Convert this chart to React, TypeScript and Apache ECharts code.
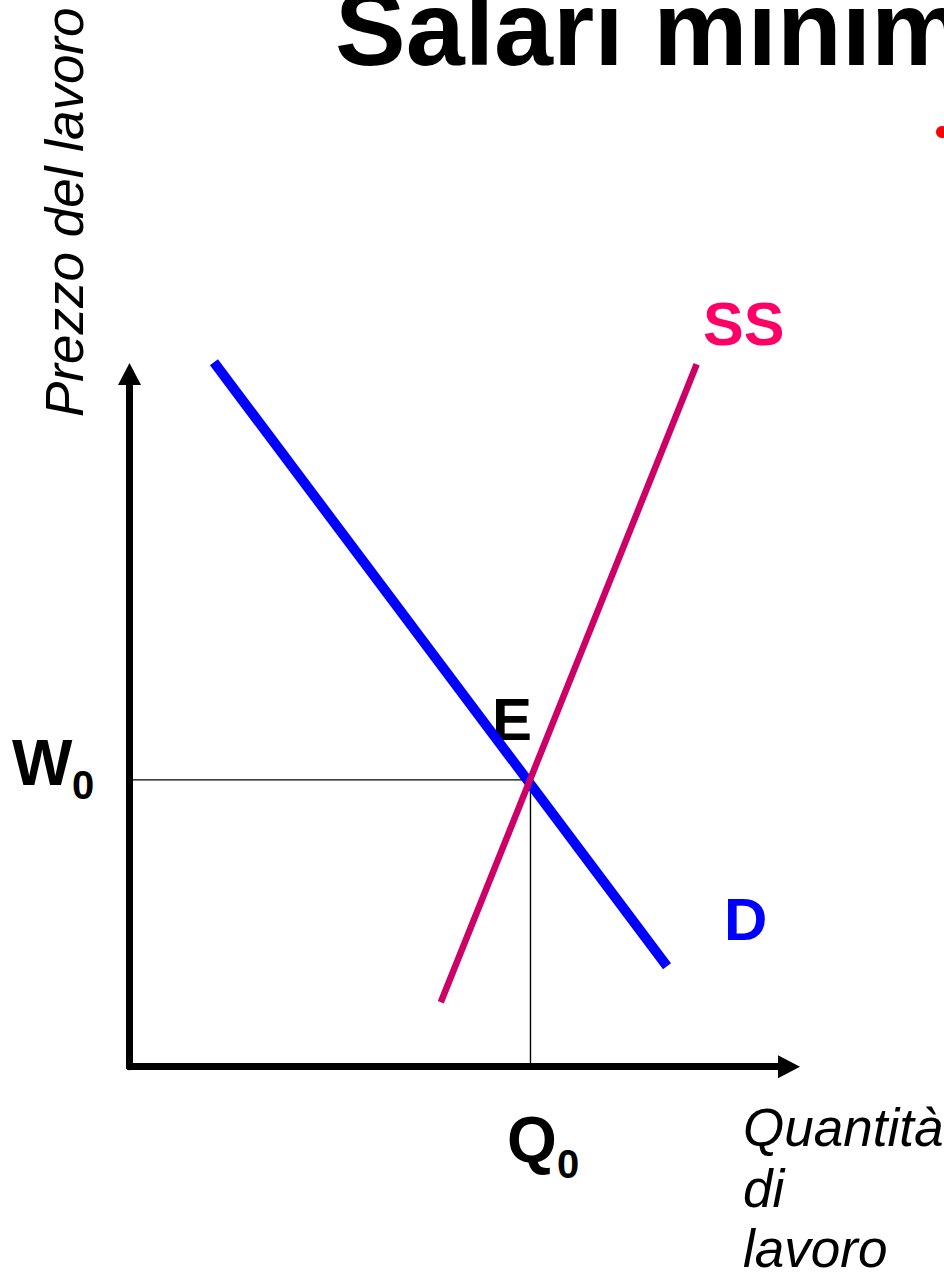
import React, { useEffect, useRef } from "react";
import * as echarts from "echarts";

// Data (axis units 0..100)
const demandPoints: [number, number][] = [
  [12.8, 101.7],
  [81.5, 14.5],
];
const supplyPoints: [number, number][] = [
  [47.2, 9.3],
  [86.0, 101.4],
];
const equilibriumQ = 60.8;
const equilibriumW = 41.4;
const curveNames = ["D", "SS"];
const titleText = "Salari minimi";
const yAxisTitle = "Prezzo del lavoro";
const xAxisTitleLines = ["Quantità", "di", "lavoro"];

const FONT = "'Liberation Sans', Arial, Helvetica, sans-serif";

export default function App() {
  const ref = useRef<HTMLDivElement>(null);
  useEffect(() => {
    if (!ref.current) return;
    const chart = echarts.init(ref.current, undefined, { renderer: "svg" });
    const gridLeft = 129.5;
    const gridTop = 374;
    const gridRight = 155;
    const gridBottom = 209.3;
    const axisLine = () => ({
      show: true,
      onZero: false,
      symbol: ["none", "triangle"],
      symbolSize: [23, 22],
      lineStyle: { color: "#000", width: 7 },
    });
    const txt = (
      text: string,
      x: number,
      y: number,
      size: number,
      opts: any = {}
    ) => ({
      type: "text",
      x,
      y,
      rotation: opts.rotation || 0,
      silent: true,
      style: {
        text,
        x: 0,
        y: 0,
        fill: opts.color || "#000",
        font: `${opts.italic ? "italic " : ""}${opts.bold ? "bold " : ""}${size}px ${FONT}`,
        align: opts.align || "left",
        verticalAlign: "middle",
      },
    });
    chart.setOption({
      animation: false,
      backgroundColor: "#fff",
      grid: {
        left: gridLeft,
        top: gridTop,
        right: gridRight,
        bottom: gridBottom,
        containLabel: false,
      },
      xAxis: {
        type: "value",
        min: 0,
        max: 100,
        axisLine: axisLine(),
        axisTick: { show: false },
        axisLabel: { show: false },
        splitLine: { show: false },
      },
      yAxis: {
        type: "value",
        min: 0,
        max: 100,
        axisLine: axisLine(),
        axisTick: { show: false },
        axisLabel: { show: false },
        splitLine: { show: false },
      },
      series: [
        {
          name: "guideH",
          type: "line",
          data: [
            [0, equilibriumW],
            [equilibriumQ, equilibriumW],
          ],
          showSymbol: false,
          silent: true,
          clip: false,
          lineStyle: { color: "#000", width: 1.4 },
          z: 1,
        },
        {
          name: "guideV",
          type: "line",
          data: [
            [equilibriumQ, equilibriumW],
            [equilibriumQ, 0],
          ],
          showSymbol: false,
          silent: true,
          clip: false,
          lineStyle: { color: "#000", width: 1.4 },
          z: 1,
        },
        {
          name: curveNames[0],
          type: "line",
          data: demandPoints,
          showSymbol: false,
          silent: true,
          clip: false,
          lineStyle: { color: "#0000FF", width: 10, cap: "butt" },
          z: 3,
        },
        {
          name: curveNames[1],
          type: "line",
          data: supplyPoints,
          showSymbol: false,
          silent: true,
          clip: false,
          lineStyle: { color: "#CC0066", width: 6.5, cap: "butt" },
          z: 4,
        },
      ],
      graphic: [
        txt(titleText, 335, 28, 106, { bold: true }),
        { type: "circle", shape: { cx: 942, cy: 132, r: 6 }, style: { fill: "#FF0000" }, silent: true },
        txt(yAxisTitle, 64, 417, 53, { italic: true, rotation: Math.PI / 2 }),
        txt("W", 12, 763, 64, { bold: true }),
        txt("0", 72, 785, 40, { bold: true }),
        txt("E", 492, 719, 60, { bold: true }),
        txt(curveNames[1], 703, 324, 61, { bold: true, color: "#FF0066" }),
        txt(curveNames[0], 724, 919, 60, { bold: true, color: "#0000FF" }),
        txt("Q", 507, 1140, 64, { bold: true }),
        txt("0", 557, 1164, 40, { bold: true }),
        txt(xAxisTitleLines[0], 743, 1127, 53, { italic: true }),
        txt(xAxisTitleLines[1], 743, 1188, 53, { italic: true }),
        txt(xAxisTitleLines[2], 743, 1248, 53, { italic: true }),
      ],
    });
    return () => chart.dispose();
  }, []);
  return (
    <div
      ref={ref}
      style={{
        position: "fixed",
        left: 0,
        top: 0,
        width: 944,
        height: 1276,
        overflow: "hidden",
        background: "#fff",
      }}
    />
  );
}
